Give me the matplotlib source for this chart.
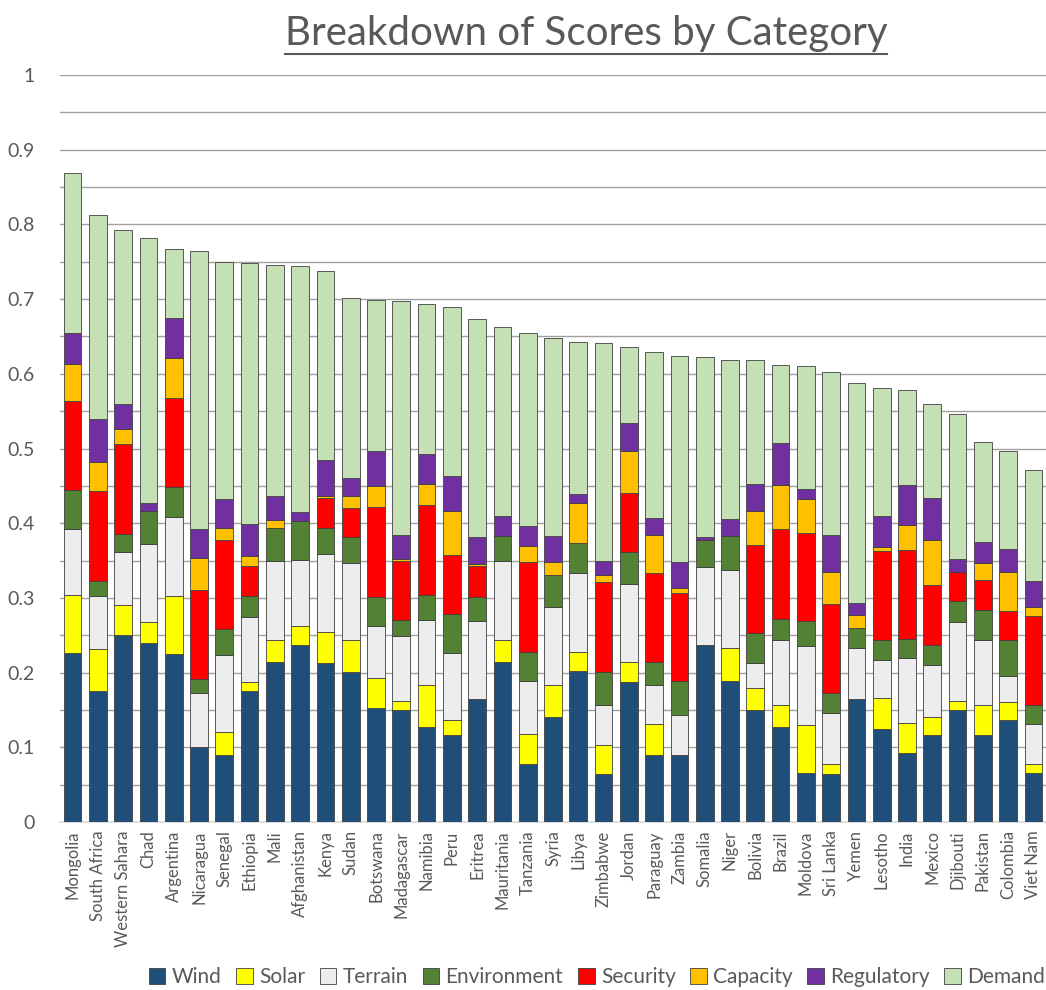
import matplotlib.pyplot as plt
import numpy as np

plt.rcParams['font.family'] = ['Lato', 'DejaVu Sans']

countries = ['Mongolia', 'South Africa', 'Western Sahara', 'Chad', 'Argentina', 'Nicaragua',
             'Senegal', 'Ethiopia', 'Mali', 'Afghanistan', 'Kenya', 'Sudan', 'Botswana',
             'Madagascar', 'Namibia', 'Peru', 'Eritrea', 'Mauritania', 'Tanzania', 'Syria',
             'Libya', 'Zimbabwe', 'Jordan', 'Paraguay', 'Zambia', 'Somalia', 'Niger',
             'Bolivia', 'Brazil', 'Moldova', 'Sri Lanka', 'Yemen', 'Lesotho', 'India',
             'Mexico', 'Djibouti', 'Pakistan', 'Colombia', 'Viet Nam']

categories = ['Wind', 'Solar', 'Terrain', 'Environment', 'Security', 'Capacity', 'Regulatory', 'Demand']

wind = [0.226, 0.176, 0.251, 0.239, 0.225, 0.101, 0.090, 0.176, 0.214, 0.237,
        0.213, 0.201, 0.152, 0.150, 0.127, 0.116, 0.164, 0.214, 0.078, 0.140,
        0.202, 0.064, 0.188, 0.090, 0.090, 0.237, 0.189, 0.150, 0.127, 0.065,
        0.064, 0.164, 0.125, 0.092, 0.116, 0.150, 0.116, 0.137, 0.065]
solar = [0.078, 0.056, 0.040, 0.029, 0.078, 0.000, 0.030, 0.011, 0.030, 0.026,
         0.042, 0.042, 0.041, 0.012, 0.056, 0.021, 0.000, 0.030, 0.040, 0.043,
         0.026, 0.039, 0.026, 0.041, 0.000, 0.000, 0.044, 0.030, 0.030, 0.065,
         0.013, 0.000, 0.041, 0.040, 0.025, 0.012, 0.040, 0.023, 0.012]
terrain = [0.088, 0.070, 0.070, 0.104, 0.105, 0.072, 0.104, 0.088, 0.105, 0.088,
           0.104, 0.104, 0.070, 0.087, 0.087, 0.089, 0.105, 0.105, 0.071, 0.105,
           0.105, 0.053, 0.105, 0.053, 0.053, 0.105, 0.104, 0.033, 0.087, 0.105,
           0.069, 0.069, 0.051, 0.088, 0.069, 0.106, 0.087, 0.036, 0.054]
environment = [0.052, 0.021, 0.025, 0.045, 0.040, 0.019, 0.035, 0.028, 0.044, 0.052,
               0.034, 0.034, 0.038, 0.021, 0.034, 0.052, 0.032, 0.034, 0.039, 0.042,
               0.041, 0.045, 0.042, 0.030, 0.046, 0.036, 0.046, 0.040, 0.028, 0.034,
               0.027, 0.027, 0.027, 0.025, 0.027, 0.028, 0.041, 0.047, 0.026]
security = [0.119, 0.120, 0.120, 0.000, 0.119, 0.118, 0.118, 0.040, 0.000, 0.000,
            0.041, 0.040, 0.121, 0.080, 0.120, 0.079, 0.042, 0.000, 0.120, 0.000,
            0.000, 0.120, 0.079, 0.120, 0.118, 0.000, 0.000, 0.118, 0.120, 0.118,
            0.119, 0.000, 0.119, 0.119, 0.080, 0.039, 0.040, 0.039, 0.119]
capacity = [0.050, 0.039, 0.020, 0.000, 0.054, 0.043, 0.017, 0.013, 0.011, 0.000,
            0.003, 0.016, 0.028, 0.002, 0.029, 0.059, 0.002, 0.000, 0.022, 0.018,
            0.053, 0.010, 0.056, 0.050, 0.006, 0.000, 0.000, 0.045, 0.059, 0.045,
            0.043, 0.017, 0.005, 0.034, 0.060, 0.000, 0.023, 0.053, 0.012]
regulatory = [0.042, 0.057, 0.033, 0.010, 0.054, 0.039, 0.038, 0.043, 0.032, 0.012,
              0.047, 0.023, 0.046, 0.032, 0.040, 0.047, 0.036, 0.027, 0.026, 0.035,
              0.012, 0.018, 0.038, 0.023, 0.035, 0.004, 0.023, 0.037, 0.056, 0.014,
              0.049, 0.016, 0.042, 0.053, 0.057, 0.017, 0.028, 0.030, 0.034]
demand = [0.214, 0.274, 0.234, 0.355, 0.092, 0.373, 0.318, 0.349, 0.309, 0.329,
          0.253, 0.242, 0.203, 0.313, 0.201, 0.227, 0.293, 0.252, 0.259, 0.265,
          0.203, 0.292, 0.102, 0.222, 0.276, 0.240, 0.213, 0.165, 0.105, 0.164,
          0.219, 0.295, 0.171, 0.127, 0.125, 0.194, 0.134, 0.131, 0.149]

colors = ['#1F4E79', '#FFFF00', '#EDEDED', '#548235', '#FF0000', '#FFC000', '#7030A0', '#C5E0B4']
series = [wind, solar, terrain, environment, security, capacity, regulatory, demand]

grey = '#595959'

fig = plt.figure(figsize=(10.46, 9.9), dpi=100)
ax = fig.add_axes([60 / 1046, 1 - 822 / 990, 1 - 60 / 1046, (822 - 75) / 990])

x = np.arange(len(countries))
bottom = np.zeros(len(countries))
for name, vals, col in zip(categories, series, colors):
    vals = np.array(vals)
    ax.bar(x, vals, 0.7, bottom=bottom, color=col, edgecolor='#404040',
           linewidth=0.6, label=name, zorder=3)
    bottom += vals

ax.set_xlim(-0.5, len(countries) - 0.5)
ax.set_ylim(0, 1)
ax.set_yticks(np.arange(0, 1.01, 0.1))
ax.set_yticklabels(['0'] + ['%.1f' % v for v in np.arange(0.1, 0.95, 0.1)] + ['1'])
for v in np.arange(0.05, 1.001, 0.05):
    ax.axhline(v, color='#A0A0A0', linewidth=1, zorder=1)
ax.tick_params(axis='y', length=0, labelsize=14, labelcolor=grey, pad=18)
ax.set_xticks(x)
ax.set_xticklabels(countries, rotation=90, fontsize=12, color=grey)
ax.tick_params(axis='x', length=0, pad=6)
for s in ['top', 'right', 'left']:
    ax.spines[s].set_visible(False)
ax.spines['bottom'].set_color('#D9D9D9')
ax.spines['bottom'].set_linewidth(1.2)

title = fig.text(586 / 1046, 1 - 33 / 990, 'Breakdown of Scores by Category',
                 ha='center', va='center', fontsize=29, color=grey)
fig.canvas.draw()
bb = title.get_window_extent()
fig.add_artist(plt.Line2D([bb.x0 / fig.bbox.width, bb.x1 / fig.bbox.width],
                          [(bb.y0 - 2) / fig.bbox.height] * 2,
                          color=grey, linewidth=1.5, transform=fig.transFigure))

fig.legend(loc='center', bbox_to_anchor=(597 / 1046, 1 - 977 / 990), ncol=8,
           frameon=False, fontsize=15, handlelength=0.8, handleheight=0.8,
           handletextpad=0.3, columnspacing=0.7, labelcolor=grey)

fig.savefig('out.png', dpi=100)
